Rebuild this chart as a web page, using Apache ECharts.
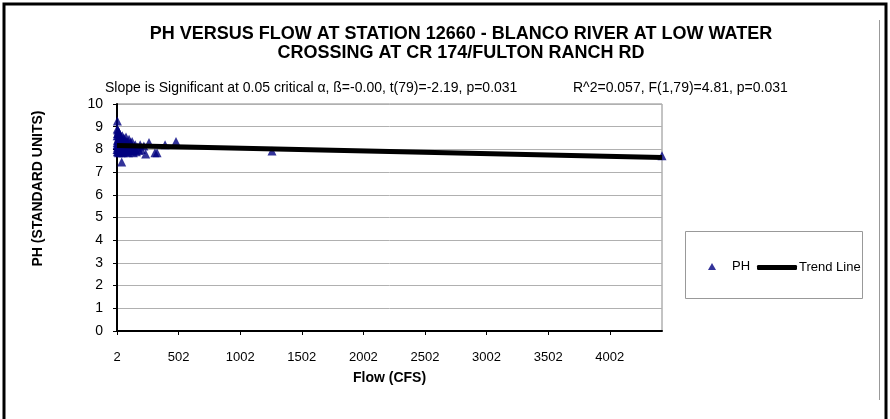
<!DOCTYPE html>
<html>
<head>
<meta charset="utf-8">
<script src="https://cdn.jsdelivr.net/npm/echarts@6/dist/echarts.min.js"></script>
<style>
  html, body { margin: 0; padding: 0; background: #fff; }
  #container { width: 890px; height: 419px; }
</style>
</head>
<body>
<div id="container"></div>
<script>
// flow (cfs) and ph readings
var flowValues = [5, 8, 10, 12, 15, 6, 4, 3, 7, 9, 11, 14, 18, 20, 22, 25, 28, 30, 35, 40,
  45, 50, 55, 60, 65, 70, 75, 80, 85, 90, 95, 100, 110, 120, 130, 140, 150, 160, 170, 180,
  200, 220, 235, 262, 310, 327, 392, 481, 1260, 4426,
  2, 3, 4, 5, 6, 8, 10, 12, 13, 16, 19, 24, 27, 32, 38, 42, 48, 52, 58, 62,
  68, 72, 78, 88, 98, 105, 115, 125, 135, 145, 190];
var phValues = [9.25, 8.85, 8.7, 8.6, 8.5, 8.4, 8.3, 8.2, 8.1, 8.0, 7.9, 7.85, 8.75, 8.45, 8.3, 8.15, 8.05, 7.95, 7.85, 7.45,
  8.6, 8.4, 8.25, 8.1, 8.0, 7.9, 8.55, 8.35, 8.2, 7.95, 7.85, 8.45, 8.3, 8.1, 7.95, 8.0, 8.2, 7.9, 8.1, 7.95,
  8.0, 8.15, 7.8, 8.3, 7.85, 7.85, 8.2, 8.35, 7.93, 7.72,
  8.0, 8.6, 8.9, 7.9, 8.7, 8.2, 8.4, 8.0, 8.8, 8.1, 8.35, 8.55, 7.9, 8.25, 8.45, 8.0, 8.15, 7.85, 8.5, 8.3,
  8.2, 8.05, 7.9, 8.3, 8.1, 7.95, 8.2, 8.35, 7.85, 8.05, 8.2];
var trendX = [2, 4426];
var trendY = [8.17, 7.64];

var titleLines = ['PH VERSUS FLOW AT STATION 12660 - BLANCO RIVER AT LOW WATER', 'CROSSING AT CR 174/FULTON RANCH RD'];
var slopeText = 'Slope is Significant at 0.05 critical \u03b1, \u00df=-0.00, t(79)=-2.19, p=0.031';
var fitText = 'R^2=0.057, F(1,79)=4.81, p=0.031';

var phPoints = flowValues.map(function (f, i) { return [f, phValues[i]]; });
var trendPoints = trendX.map(function (f, i) { return [f, trendY[i]]; });

var font = 'Arial, "Liberation Sans", sans-serif';
var dom = document.getElementById('container');
var myChart = echarts.init(dom);
var option = {
    backgroundColor: '#fff',
    animation: false,
    title: [{
        text: titleLines.join('\n'),
        left: 456,
        textAlign: 'center',
        top: 20,
        textStyle: { fontFamily: font, fontSize: 18, fontWeight: 'bold', color: '#000', lineHeight: 19 }
    }, {
        text: slopeText,
        left: 100,
        top: 76,
        textStyle: { fontFamily: font, fontSize: 14, fontWeight: 'normal', color: '#000' }
    }, {
        text: fitText,
        left: 568,
        top: 76,
        textStyle: { fontFamily: font, fontSize: 14, fontWeight: 'normal', color: '#000' }
    }],
    graphic: [{
        type: 'rect',
        shape: { x: 4, y: 4, width: 882, height: 430 },
        style: { fill: null, stroke: '#000', lineWidth: 3 },
        silent: true
    }, {
        type: 'line',
        shape: { x1: 879.5, y1: 20, x2: 879.5, y2: 400 },
        style: { stroke: '#999', lineWidth: 1 },
        silent: true
    }, {
        type: 'rect',
        shape: { x: 685.5, y: 231.5, width: 177, height: 67 },
        style: { fill: '#fff', stroke: '#999', lineWidth: 1 },
        silent: true,
        z: 0
    }],
    legend: [{
        data: [{ name: 'PH', icon: 'triangle' }],
        left: 703,
        top: 255,
        itemWidth: 8,
        itemHeight: 7,
        textStyle: { fontFamily: font, fontSize: 13, color: '#000', padding: [0, 0, 0, 11] },
        z: 5
    }, {
        data: [{ name: 'Trend Line', icon: 'roundRect' }],
        left: 752,
        top: 256,
        itemWidth: 40,
        itemHeight: 5,
        itemGap: 0,
        textStyle: { fontFamily: font, fontSize: 13, color: '#000', padding: [0, 0, 0, -3] },
        z: 5
    }],
    grid: {
        left: 117,
        right: 228,
        top: 104,
        bottom: 88,
        show: true,
        borderColor: '#888',
        borderWidth: 1
    },
    xAxis: {
        type: 'value',
        min: 2,
        max: 4426,
        interval: 500,
        name: 'Flow (CFS)',
        nameLocation: 'middle',
        nameGap: 40,
        nameTextStyle: { fontFamily: font, fontSize: 14, fontWeight: 'bold', color: '#000' },
        axisLine: { lineStyle: { color: '#000', width: 2 } },
        axisTick: { show: true, length: 4, lineStyle: { color: '#000' } },
        axisLabel: {
            fontFamily: font, fontSize: 13, color: '#000', margin: 20, showMaxLabel: false,
            formatter: function (v) { return String(v); }
        },
        splitLine: { show: false }
    },
    yAxis: {
        type: 'value',
        min: 0,
        max: 10,
        interval: 1,
        name: 'PH (STANDARD UNITS)',
        nameLocation: 'middle',
        nameGap: 72,
        nameTextStyle: { fontFamily: font, fontSize: 14, fontWeight: 'bold', color: '#000', padding: [0, 0, 0, 58] },
        axisLine: { show: true, lineStyle: { color: '#000', width: 2 } },
        axisTick: { show: true, length: 4, lineStyle: { color: '#000' } },
        axisLabel: { fontFamily: font, fontSize: 14, color: '#000', margin: 14 },
        splitLine: { show: true, lineStyle: { color: '#b0b0b0', width: 1 } }
    },
    series: [{
        name: 'PH',
        type: 'scatter',
        symbol: 'triangle',
        symbolSize: [9, 9],
        itemStyle: { color: '#000080' },
        data: phPoints,
        z: 3
    }, {
        name: 'Trend Line',
        type: 'line',
        showSymbol: false,
        symbol: 'none',
        lineStyle: { color: '#000', width: 5 },
        itemStyle: { color: '#000' },
        data: trendPoints,
        z: 4
    }]
};
myChart.setOption(option);
</script>
</body>
</html>
